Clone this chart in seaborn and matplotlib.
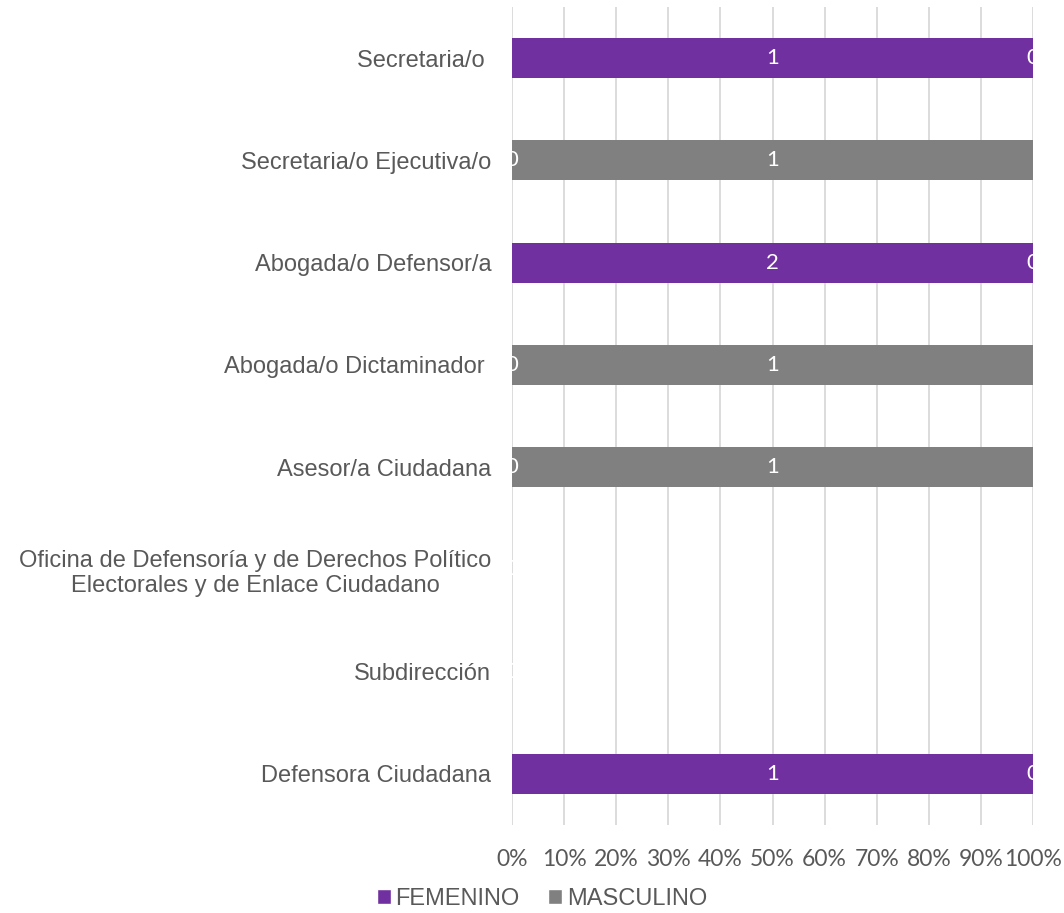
import matplotlib
matplotlib.use("Agg")
import matplotlib.pyplot as plt
from matplotlib.patches import Patch
import seaborn as sns
import pandas as pd

categories = [
    "Secretaria/o ",
    "Secretaria/o Ejecutiva/o",
    "Abogada/o Defensor/a",
    "Abogada/o Dictaminador ",
    "Asesor/a Ciudadana",
    "Oficina de Defensoría y de Derechos Político\nElectorales y de Enlace Ciudadano",
    "Subdirección",
    "Defensora Ciudadana",
]
femenino = [1, 0, 2, 0, 0, 0, 0, 1]
masculino = [0, 1, 0, 1, 1, 0, 0, 0]
xtick_values = list(range(0, 101, 10))
xtick_labels = [f"{v}%" for v in xtick_values]

PURPLE = "#7030A0"
GREY = "#808080"
TEXT = "#595959"

fem_pct, tot_pct = [], []
for f, m in zip(femenino, masculino):
    t = f + m
    fem_pct.append(100.0 * f / t if t else 0.0)
    tot_pct.append(100.0 if t else 0.0)

df = pd.DataFrame({"cat": categories, "fem": fem_pct, "tot": tot_pct})

sns.set_style("white")
fig = plt.figure(figsize=(10.64, 9.13), dpi=100)
ax = fig.add_axes([512/1064, 1 - 825/913, (1033-512)/1064, (825-7)/913])

sns.barplot(data=df, x="tot", y="cat", color=GREY, orient="h", width=0.39,
            saturation=1, ax=ax, zorder=2, linewidth=0)
sns.barplot(data=df, x="fem", y="cat", color=PURPLE, orient="h", width=0.39,
            saturation=1, ax=ax, zorder=3, linewidth=0)

ax.set_xlim(0, 100)
ax.set_ylim(7.5, -0.5)
ax.set_xticks(xtick_values)
ax.set_xticklabels(xtick_labels, fontfamily="Lato", fontsize=16.5, color=TEXT)
ax.tick_params(axis="x", length=0, pad=17)
ax.tick_params(axis="y", length=0, pad=15)
for lbl in ax.get_yticklabels():
    lbl.set_fontfamily("Liberation Sans")
    lbl.set_fontsize(17)
    lbl.set_color(TEXT)
    lbl.set_multialignment("center")
ax.set_xlabel("")
ax.set_ylabel("")
for s in ax.spines.values():
    s.set_visible(False)
ax.xaxis.grid(True, color="#D9D9D9", linewidth=1.3, zorder=0)
ax.set_axisbelow(True)

for i, (f, m, fp) in enumerate(zip(femenino, masculino, fem_pct)):
    ax.text(fp / 2, i, str(f), color="white", ha="center", va="center",
            fontfamily="Lato", fontsize=16, zorder=5, clip_on=False)
    mstart = fp
    mend = 100.0 if (f + m) else 0.0
    ax.text((mstart + mend) / 2, i, str(m), color="white", ha="center", va="center",
            fontfamily="Lato", fontsize=16, zorder=5, clip_on=False)

handles = [Patch(facecolor=PURPLE, label="FEMENINO"),
           Patch(facecolor=GREY, label="MASCULINO")]
leg = fig.legend(handles=handles, loc="center", bbox_to_anchor=(542/1064, 1 - 899/913),
                 ncol=2, frameon=False, handlelength=0.6, handleheight=0.6,
                 handletextpad=0.2, columnspacing=1.2,
                 prop={"family": "Liberation Sans", "size": 17})
for t in leg.get_texts():
    t.set_color(TEXT)

fig.savefig("out.png", dpi=100)
